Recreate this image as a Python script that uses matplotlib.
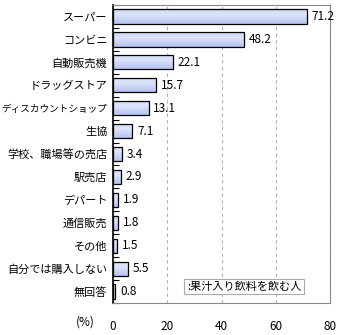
import numpy as np
import matplotlib.pyplot as plt
from matplotlib.colors import LinearSegmentedColormap

plt.rcParams['font.family'] = ['Noto Sans CJK JP', 'DejaVu Sans']

categories = ["スーパー", "コンビニ", "自動販売機", "ドラッグストア", "ディスカウントショップ",
              "生協", "学校、職場等の売店", "駅売店", "デパート", "通信販売",
              "その他", "自分では購入しない", "無回答"]
values = [71.2, 48.2, 22.1, 15.7, 13.1, 7.1, 3.4, 2.9, 1.9, 1.8, 1.5, 5.5, 0.8]
xticks = [0, 20, 40, 60, 80]
legend_label = ":果汁入り飲料を飲む人"

fig = plt.figure(figsize=(3.4, 3.35), dpi=100)
ax = fig.add_axes([0.332, 0.0955, 0.64, 0.8895])

n = len(categories)
ypos = np.arange(n)
bar_h = 0.62

# gradient fill for bars
grad = np.linspace(0, 1, 50).reshape(-1, 1)
grad = 1 - np.abs(grad - 0.35) * 1.2
cmap = LinearSegmentedColormap.from_list("b", ["#a9b8ee", "#dfe6fb"])

bars = ax.barh(ypos, values, height=bar_h, color="none", edgecolor="black",
               linewidth=0.9, zorder=3)
for b in bars:
    x0, y0 = b.get_x(), b.get_y()
    w, h = b.get_width(), b.get_height()
    im = ax.imshow(grad, cmap=cmap, aspect="auto", extent=[x0, x0 + w, y0 + h, y0],
                   zorder=2, vmin=0, vmax=1)
    im.set_clip_path(b)

for y, v in zip(ypos, values):
    ax.text(v + 1.8, y, f"{v}", va="center", ha="left", fontsize=8.5, zorder=4)

ax.set_xlim(0, 80)
ax.set_ylim(n - 0.5, -0.5)
ax.set_xticks(xticks)
ax.set_xticklabels([str(t) for t in xticks], fontsize=8.5)
ax.set_yticks(ypos)
ax.set_yticklabels(categories, fontsize=8)
# the long label has to fit in the left margin
for lab in ax.get_yticklabels():
    if len(lab.get_text()) > 9:
        lab.set_fontsize(6.9)
ax.tick_params(axis="y", which="major", length=0, pad=4)
ax.set_yticks(np.arange(-0.5, n, 1.0), minor=True)
ax.tick_params(axis="y", which="minor", direction="in", length=4, width=0.8)
ax.tick_params(axis="x", length=0, pad=12)

ax.xaxis.grid(True, linestyle=(0, (3, 3)), color="#b0b0b0", linewidth=0.8, zorder=0)
for s in ["top", "right", "bottom"]:
    ax.spines[s].set_color("#888888")
    ax.spines[s].set_linewidth(0.8)
ax.spines["left"].set_color("black")
ax.spines["left"].set_linewidth(1.2)

fig.text(85 / 340, 1 - 322 / 335, "(%)", ha="center", va="center", fontsize=8.5)

ax.text(0.34, 0.055, legend_label, transform=ax.transAxes, fontsize=8,
        va="center", ha="left", zorder=5,
        bbox=dict(boxstyle="square,pad=0.25", facecolor="white", edgecolor="#aaaaaa", linewidth=0.8))

fig.savefig("out.png", dpi=100)
